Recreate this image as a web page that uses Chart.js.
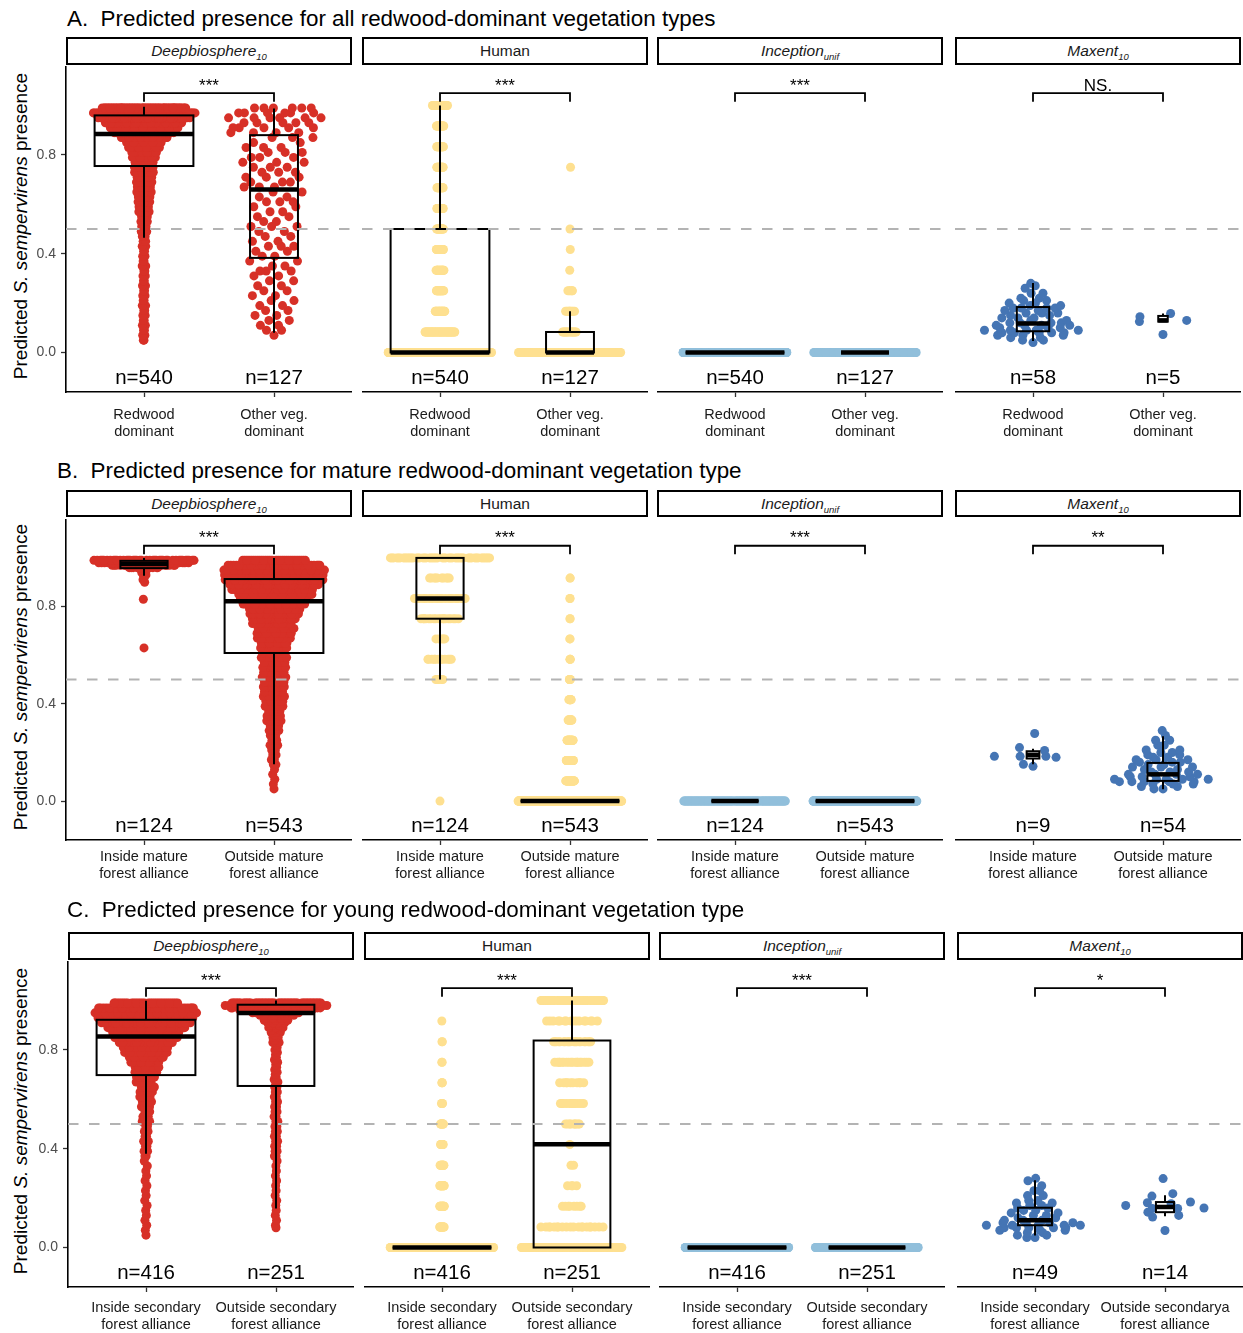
<!DOCTYPE html>
<html>
<head>
<meta charset="utf-8">
<title>Predicted S. sempervirens presence</title>
<script src="https://cdn.jsdelivr.net/npm/chart.js@4.4.1/dist/chart.umd.min.js"></script>
<style>
  html, body { margin: 0; padding: 0; background: #fff; }
  body { position: relative; width: 1243px; height: 1333px; overflow: hidden;
         font-family: "Liberation Sans", Arial, Helvetica, sans-serif; }
  .row-title { position: absolute; font-size: 22.4px; line-height: 22px; color: #000; white-space: pre; }
  .strip { position: absolute; box-sizing: border-box; width: 286px; border: 2.5px solid #000; background: #fff;
           display: flex; align-items: center; justify-content: center; font-size: 15.5px; color: #1a1a1a; }
  .strip sub { font-size: 9.5px; vertical-align: -4px; line-height: 0; }
  .y-title { position: absolute; width: 340px; height: 20px; text-align: center; font-size: 19px; line-height: 20px;
             color: #000; white-space: nowrap; transform: rotate(-90deg); }
  canvas { position: absolute; }
</style>
</head>
<body>
<script>
// ---------------------------------------------------------------------------
// Shared labels
// ---------------------------------------------------------------------------
const rowTitles = [
  'A.  Predicted presence for all redwood-dominant vegetation types',
  'B.  Predicted presence for mature redwood-dominant vegetation type',
  'C.  Predicted presence for young redwood-dominant vegetation type'
];
const modelNames = ['Deepbiosphere', 'Human', 'Inception', 'Maxent'];
const modelSubs = ['10', '', 'unif', '10'];
const modelItalic = [true, false, true, true];
const modelColors = ['#d73027', '#fee090', '#91bfdb', '#4575b4'];

const catsA = [['Redwood', 'dominant'], ['Other veg.', 'dominant']];
const catsB = [['Inside mature', 'forest alliance'], ['Outside mature', 'forest alliance']];
const catsC = [['Inside secondary', 'forest alliance'], ['Outside secondary', 'forest alliance']];
const catsCMaxent = [['Inside secondary', 'forest alliance'], ['Outside secondarya', 'forest alliance']];

const yTickValues = [0, 0.4, 0.8];
const yTickLabels = ['0.0', '0.4', '0.8'];
const threshold = 0.5;

const sigA = ['***', '***', '***', 'NS.'];
const sigB = ['***', '***', '***', '**'];
const sigC = ['***', '***', '***', '*'];

const nA = [[540, 127], [540, 127], [540, 127], [58, 5]];
const nB = [[124, 543], [124, 543], [124, 543], [9, 54]];
const nC = [[416, 251], [416, 251], [416, 251], [49, 14]];

// Human scores are given on a 0–1 scale in twelfths
const humanLevels = [0, 0.083, 0.167, 0.25, 0.333, 0.417, 0.5, 0.583, 0.667, 0.75, 0.833, 0.917, 1.0];
const zeroLevel = [0];

// ---------------------------------------------------------------------------
// Row A: all redwood-dominant vegetation types (value / count pairs)
// ---------------------------------------------------------------------------
const deepA_redwood_val = [0.05,0.07,0.09,0.11,0.13,0.15,0.17,0.19,0.21,0.23,0.25,0.27,0.29,0.31,0.33,0.35,0.37,0.39,0.41,0.43,0.45,0.47,0.49,0.51,0.53,0.55,0.57,0.59,0.61,0.63,0.65,0.67,0.69,0.71,0.73,0.75,0.77,0.79,0.81,0.83,0.85,0.87,0.89,0.91,0.93,0.95,0.97,0.99];
const deepA_redwood_cnt = [2,2,2,2,2,2,2,2,2,2,2,2,2,2,2,2,2,2,2,2,3,3,3,4,4,5,6,6,7,8,8,9,9,10,10,11,12,13,14,17,20,24,35,38,42,46,67,66];
const deepA_other_val = [0.07,0.09,0.11,0.13,0.15,0.17,0.19,0.21,0.23,0.25,0.27,0.29,0.31,0.33,0.35,0.37,0.39,0.41,0.43,0.45,0.47,0.49,0.51,0.53,0.55,0.57,0.59,0.61,0.63,0.65,0.67,0.69,0.71,0.73,0.75,0.77,0.79,0.81,0.83,0.85,0.87,0.89,0.91,0.93,0.95,0.97,0.99];
const deepA_other_cnt = [1,2,2,2,2,2,2,2,2,2,2,2,2,3,2,2,2,2,3,2,2,2,3,2,2,2,2,3,2,2,3,3,3,3,3,3,3,3,3,2,3,4,5,5,6,6,6];
const humanA_redwood_cnt = [282,50,20,18,18,18,16,16,14,16,16,16,40];
const humanA_other_cnt = [95,14,9,5,1,1,1,0,0,1,0,0,0];
const incepA_redwood_cnt = [540];
const incepA_other_cnt = [127];
const maxentA_redwood_val = [0.04,0.05,0.06,0.07,0.08,0.09,0.10,0.11,0.12,0.13,0.14,0.15,0.16,0.17,0.18,0.19,0.20,0.21,0.22,0.24,0.26,0.27,0.28];
const maxentA_redwood_cnt = [1,2,2,3,5,5,3,4,4,2,3,2,3,2,4,2,2,2,2,2,1,1,1];
const maxentA_other_val = [0.073,0.125,0.13,0.145,0.158];
const maxentA_other_cnt = [1,1,1,1,1];

// box statistics: [lower whisker, Q1, median, Q3, upper whisker]
const boxA_deep = [[0.465, 0.755, 0.885, 0.96, 0.995], [0.08, 0.383, 0.66, 0.88, 0.988]];
const boxA_human = [[0, 0, 0, 0.5, 1.0], [0, 0, 0, 0.083, 0.167]];
const boxA_incep = [[0, 0, 0, 0, 0], [0, 0, 0, 0, 0]];
const boxA_maxent = [[0.046, 0.086, 0.117, 0.184, 0.281], [0.125, 0.125, 0.13, 0.148, 0.158]];

// ---------------------------------------------------------------------------
// Row B: mature redwood-dominant vegetation type
// ---------------------------------------------------------------------------
const deepB_inside_val = [0.63,0.83,0.90,0.91,0.92,0.93,0.94,0.95,0.96,0.97,0.98,0.99];
const deepB_inside_cnt = [1,1,1,1,1,2,2,3,12,25,35,40];
const deepB_outside_val = [0.05,0.07,0.09,0.11,0.13,0.15,0.17,0.19,0.21,0.23,0.25,0.27,0.29,0.31,0.33,0.35,0.37,0.39,0.41,0.43,0.45,0.47,0.49,0.51,0.53,0.55,0.57,0.59,0.61,0.63,0.65,0.67,0.69,0.71,0.73,0.75,0.77,0.79,0.81,0.83,0.85,0.87,0.89,0.91,0.93,0.95,0.97,0.99];
const deepB_outside_cnt = [1,1,1,1,1,2,2,2,2,3,3,3,4,4,5,5,6,6,7,7,7,7,8,8,8,8,8,8,8,9,10,11,12,13,14,15,16,17,19,22,25,28,30,31,34,35,36,30];
const humanB_inside_cnt = [1,0,0,0,0,0,5,12,5,18,24,10,49];
const humanB_outside_cnt = [412,35,30,25,15,10,5,3,2,2,2,2,0];
const incepB_inside_cnt = [124];
const incepB_outside_cnt = [543];
const maxentB_inside_val = [0.143,0.151,0.18,0.184,0.208,0.22,0.278];
const maxentB_inside_cnt = [1,1,1,3,1,1,1];
const maxentB_outside_val = [0.05,0.06,0.07,0.08,0.09,0.10,0.11,0.12,0.13,0.14,0.15,0.16,0.17,0.18,0.19,0.20,0.21,0.23,0.25,0.27,0.29];
const maxentB_outside_cnt = [2,2,3,5,5,3,4,3,2,3,2,3,3,2,2,2,2,2,2,1,1];

const boxB_deep = [[0.927, 0.958, 0.975, 0.988, 1.0], [0.151, 0.609, 0.822, 0.913, 1.0]];
const boxB_human = [[0.5, 0.75, 0.833, 1.0, 1.0], [0, 0, 0, 0, 0]];
const boxB_incep = [[0, 0, 0, 0, 0], [0, 0, 0, 0, 0]];
const boxB_maxent = [[0.151, 0.175, 0.19, 0.205, 0.215], [0.049, 0.083, 0.11, 0.157, 0.267]];

// ---------------------------------------------------------------------------
// Row C: young redwood-dominant vegetation type
// ---------------------------------------------------------------------------
const deepC_inside_val = [0.05,0.07,0.09,0.11,0.13,0.15,0.17,0.19,0.21,0.23,0.25,0.27,0.29,0.31,0.33,0.35,0.37,0.39,0.41,0.43,0.45,0.47,0.49,0.51,0.53,0.55,0.57,0.59,0.61,0.63,0.65,0.67,0.69,0.71,0.73,0.75,0.77,0.79,0.81,0.83,0.85,0.87,0.89,0.91,0.93,0.95,0.97,0.99];
const deepC_inside_cnt = [1,1,1,1,1,1,1,1,1,1,1,1,1,1,1,1,2,2,2,2,2,2,2,3,3,3,4,4,5,5,6,7,8,8,9,11,13,15,17,19,22,26,28,30,36,38,36,30];
const deepC_outside_val = [0.08,0.09,0.11,0.13,0.15,0.17,0.19,0.21,0.23,0.25,0.27,0.29,0.31,0.33,0.35,0.37,0.39,0.41,0.43,0.45,0.47,0.49,0.51,0.53,0.55,0.57,0.59,0.61,0.63,0.65,0.66,0.67,0.68,0.69,0.70,0.71,0.72,0.73,0.74,0.75,0.76,0.77,0.78,0.79,0.80,0.81,0.82,0.83,0.84,0.85,0.86,0.87,0.88,0.89,0.90,0.91,0.92,0.93,0.94,0.95,0.96,0.97,0.98,0.99];
const deepC_outside_cnt = [1,1,1,1,1,1,1,1,1,1,1,1,1,1,1,2,2,2,2,2,2,2,2,2,2,2,2,2,2,2,1,1,1,1,1,1,1,1,1,1,1,1,1,1,1,1,1,2,2,2,2,3,3,4,5,5,6,7,8,10,15,25,35,55];
const humanC_inside_cnt = [327,15,15,15,12,10,10,4,3,2,2,1,0];
const humanC_outside_cnt = [81,20,8,4,2,1,9,12,10,18,20,16,50];
const incepC_inside_cnt = [416];
const incepC_outside_cnt = [251];
const maxentC_inside_val = [0.04,0.05,0.06,0.07,0.08,0.09,0.10,0.11,0.12,0.13,0.14,0.15,0.16,0.17,0.18,0.19,0.21,0.23,0.25,0.27,0.28];
const maxentC_inside_cnt = [2,2,2,3,5,5,4,3,2,2,2,2,2,2,2,2,2,2,1,1,1];
const maxentC_outside_val = [0.069,0.123,0.13,0.143,0.158,0.16,0.17,0.177,0.181,0.184,0.208,0.218,0.279];
const maxentC_outside_cnt = [1,1,1,1,2,1,1,1,1,1,1,1,1];

const boxC_deep = [[0.38, 0.698, 0.854, 0.922, 0.999], [0.158, 0.654, 0.949, 0.983, 1.0]];
const boxC_human = [[0, 0, 0, 0, 0], [0, 0, 0.418, 0.838, 1.0]];
const boxC_incep = [[0, 0, 0, 0, 0], [0, 0, 0, 0, 0]];
const boxC_maxent = [[0.049, 0.09, 0.11, 0.161, 0.272], [0.126, 0.143, 0.164, 0.184, 0.211]];

// ---------------------------------------------------------------------------
// Assemble rows from the arrays above
// ---------------------------------------------------------------------------
const rows = [
  {
    title: rowTitles[0], cats: [catsA, catsA, catsA, catsA], n: nA, sig: sigA,
    groups: [
      [[deepA_redwood_val, deepA_redwood_cnt], [deepA_other_val, deepA_other_cnt]],
      [[humanLevels, humanA_redwood_cnt], [humanLevels, humanA_other_cnt]],
      [[zeroLevel, incepA_redwood_cnt], [zeroLevel, incepA_other_cnt]],
      [[maxentA_redwood_val, maxentA_redwood_cnt], [maxentA_other_val, maxentA_other_cnt]]
    ],
    boxes: [boxA_deep, boxA_human, boxA_incep, boxA_maxent]
  },
  {
    title: rowTitles[1], cats: [catsB, catsB, catsB, catsB], n: nB, sig: sigB,
    groups: [
      [[deepB_inside_val, deepB_inside_cnt], [deepB_outside_val, deepB_outside_cnt]],
      [[humanLevels, humanB_inside_cnt], [humanLevels, humanB_outside_cnt]],
      [[zeroLevel, incepB_inside_cnt], [zeroLevel, incepB_outside_cnt]],
      [[maxentB_inside_val, maxentB_inside_cnt], [maxentB_outside_val, maxentB_outside_cnt]]
    ],
    boxes: [boxB_deep, boxB_human, boxB_incep, boxB_maxent]
  },
  {
    title: rowTitles[2], cats: [catsC, catsC, catsC, catsCMaxent], n: nC, sig: sigC,
    groups: [
      [[deepC_inside_val, deepC_inside_cnt], [deepC_outside_val, deepC_outside_cnt]],
      [[humanLevels, humanC_inside_cnt], [humanLevels, humanC_outside_cnt]],
      [[zeroLevel, incepC_inside_cnt], [zeroLevel, incepC_outside_cnt]],
      [[maxentC_inside_val, maxentC_inside_cnt], [maxentC_outside_val, maxentC_outside_cnt]]
    ],
    boxes: [boxC_deep, boxC_human, boxC_incep, boxC_maxent]
  }
];

// ---------------------------------------------------------------------------
// Page geometry
// ---------------------------------------------------------------------------
const rowGeom = [
  { titleX: 67, titleY: 19,  stripTop: 37,  stripBot: 65,  plotTop: 66,  plotBot: 392,  dx: 0, labelPad: 9 },
  { titleX: 57, titleY: 471, stripTop: 490, stripBot: 517, plotTop: 519, plotBot: 840,  dx: 0, labelPad: 3 },
  { titleX: 67, titleY: 910, stripTop: 932, stripBot: 960, plotTop: 961, plotBot: 1287, dx: 2, labelPad: 7 }
];
const panelLeft = [66, 362, 657, 955];
const panelWidth = 286;
const yAxisWidth = 66;
const xAxisHeight = 60;
const yMin = -0.16, yMax = 1.16;
const xMin = 0.4, xMax = 2.6;
const spreadWidth = 0.4;      // quasirandom half-spread, data units
const boxWidthMax = 0.76;     // box width of the largest group in a row
const pointRadius = 4.5;
const FONT = '"Liberation Sans", Arial, Helvetica, sans-serif';

// ---------------------------------------------------------------------------
// Quasirandom (van der Corput) point spreading scaled by a kernel density
// ---------------------------------------------------------------------------
function expand(vals, cnts) {
  const out = [];
  vals.forEach((v, i) => { for (let k = 0; k < cnts[i]; k++) out.push(v); });
  return out;
}
function quantile7(sorted, p) {
  const h = (sorted.length - 1) * p, lo = Math.floor(h), hi = Math.ceil(h);
  return sorted[lo] + (h - lo) * (sorted[hi] - sorted[lo]);
}
function bwNrd0(x) {
  const n = x.length;
  if (n < 2) return 0.1;
  const mean = x.reduce((a, b) => a + b, 0) / n;
  const sd = Math.sqrt(x.reduce((a, b) => a + (b - mean) * (b - mean), 0) / (n - 1));
  const s = x.slice().sort((a, b) => a - b);
  const iqr = quantile7(s, 0.75) - quantile7(s, 0.25);
  let lo = Math.min(sd, iqr / 1.34);
  if (!lo) lo = sd || Math.abs(x[0]) || 1;
  return 0.9 * lo * Math.pow(n, -0.2);
}
function vanDerCorput(i) {
  let r = 0, f = 0.5;
  while (i > 0) { r += f * (i & 1); i >>= 1; f /= 2; }
  return r;
}
function quasirandomOffsets(ys) {
  const n = ys.length;
  const bw = 0.5 * bwNrd0(ys);
  const dens = v => { let s = 0; for (const y of ys) { const z = (v - y) / bw; s += Math.exp(-0.5 * z * z); } return s; };
  const lo = Math.min(...ys) - 3 * bw, hi = Math.max(...ys) + 3 * bw;
  let mx = 0;
  for (let g = 0; g < 512; g++) { const d = dens(lo + (hi - lo) * g / 511); if (d > mx) mx = d; }
  const order = ys.map((v, i) => i).sort((a, b) => (ys[a] - ys[b]) || (a - b));
  const rank = new Array(n);
  order.forEach((k, r) => { rank[k] = r + 1; });
  const cache = new Map();
  return ys.map((v, i) => {
    let d = cache.get(v);
    if (d === undefined) { d = dens(v) / mx; cache.set(v, d); }
    return (vanDerCorput(rank[i]) - 0.5) * 2 * spreadWidth * d;
  });
}
function groupPoints(vals, cnts, center) {
  const ys = expand(vals, cnts);
  const off = quasirandomOffsets(ys);
  return ys.map((y, i) => ({ x: center + off[i], y: y }));
}

// ---------------------------------------------------------------------------
// Panel decorations: box plots, threshold, significance bracket, counts
// ---------------------------------------------------------------------------
function decorPlugin(boxes, boxWidths, nLabels, sigLabel) {
  return {
    id: 'panelDecor',
    afterDatasetsDraw(chart) {
      const ctx = chart.ctx, xs = chart.scales.x, ys = chart.scales.y, area = chart.chartArea;
      const line = (x1, y1, x2, y2) => { ctx.beginPath(); ctx.moveTo(x1, y1); ctx.lineTo(x2, y2); ctx.stroke(); };
      ctx.save();
      ctx.strokeStyle = '#000';
      ctx.lineCap = 'butt';
      boxes.forEach((b, i) => {
        const cx = xs.getPixelForValue(i + 1);
        const hw = xs.getPixelForValue(i + 1 + boxWidths[i] / 2) - cx;
        const [lo, q1, md, q3, hi] = b.map(v => ys.getPixelForValue(v));
        ctx.lineWidth = 2;
        if (hi < q3) line(cx, hi, cx, q3);
        if (lo > q1) line(cx, q1, cx, lo);
        ctx.strokeRect(cx - hw, q3, 2 * hw, q1 - q3);
        ctx.lineWidth = 4.5;
        line(cx - hw, md, cx + hw, md);
      });
      // threshold line
      const yT = ys.getPixelForValue(threshold);
      ctx.strokeStyle = '#b3b3b3';
      ctx.lineWidth = 2;
      ctx.setLineDash([10.5, 10.5]);
      line(area.left, yT, area.right, yT);
      ctx.setLineDash([]);
      // significance bracket
      const x1 = xs.getPixelForValue(1), x2 = xs.getPixelForValue(2);
      const yb = ys.getPixelForValue(1.05), ye = ys.getPixelForValue(1.015);
      ctx.strokeStyle = '#000';
      ctx.lineWidth = 1.8;
      ctx.beginPath(); ctx.moveTo(x1, ye); ctx.lineTo(x1, yb); ctx.lineTo(x2, yb); ctx.lineTo(x2, ye); ctx.stroke();
      ctx.fillStyle = '#000';
      ctx.textAlign = 'center';
      ctx.textBaseline = 'alphabetic';
      ctx.font = '17px ' + FONT;
      ctx.fillText(sigLabel, (x1 + x2) / 2, ys.getPixelForValue(1.06));
      // group sizes
      ctx.font = '20.5px ' + FONT;
      nLabels.forEach((n, i) => {
        ctx.fillText('n=' + n, xs.getPixelForValue(i + 1), ys.getPixelForValue(-0.128));
      });
      ctx.restore();
    }
  };
}

// ---------------------------------------------------------------------------
// Build the page
// ---------------------------------------------------------------------------
function stripHTML(c) {
  const name = modelNames[c] + (modelSubs[c] ? '<sub>' + modelSubs[c] + '</sub>' : '');
  return modelItalic[c] ? '<i>' + name + '</i>' : name;
}

rows.forEach((row, r) => {
  const g = rowGeom[r];
  const title = document.createElement('div');
  title.className = 'row-title';
  title.style.left = g.titleX + 'px';
  title.style.top = (g.titleY - 11) + 'px';
  title.textContent = row.title;
  document.body.appendChild(title);

  const yt = document.createElement('div');
  yt.className = 'y-title';
  yt.innerHTML = 'Predicted <i>S. sempervirens</i> presence';
  yt.style.left = (21 - 170) + 'px';
  yt.style.top = ((g.plotTop + g.plotBot) / 2 - 3 - 10) + 'px';
  document.body.appendChild(yt);

  const rowMaxN = Math.max(...row.n.flat());

  for (let c = 0; c < 4; c++) {
    const left = panelLeft[c] + g.dx;
    const strip = document.createElement('div');
    strip.className = 'strip';
    strip.style.left = left + 'px';
    strip.style.top = g.stripTop + 'px';
    strip.style.height = (g.stripBot - g.stripTop) + 'px';
    strip.innerHTML = stripHTML(c);
    document.body.appendChild(strip);

    const yw = c === 0 ? yAxisWidth : 0;
    const W = panelWidth + yw;
    const H = (g.plotBot - g.plotTop) + xAxisHeight;
    const cv = document.createElement('canvas');
    cv.width = W; cv.height = H;
    cv.style.left = (left - yw) + 'px';
    cv.style.top = g.plotTop + 'px';
    cv.style.width = W + 'px';
    cv.style.height = H + 'px';
    document.body.appendChild(cv);

    const cats = row.cats[c];
    const nLabels = row.n[c];
    const boxWidths = nLabels.map(n => boxWidthMax * Math.sqrt(n / rowMaxN));
    const datasets = row.groups[c].map(([vals, cnts], gi) => ({
      data: groupPoints(vals, cnts, gi + 1),
      backgroundColor: modelColors[c],
      borderWidth: 0,
      pointRadius: pointRadius,
      pointHoverRadius: pointRadius
    }));

    new Chart(cv, {
      type: 'scatter',
      data: { datasets },
      options: {
        responsive: false,
        animation: false,
        devicePixelRatio: 1,
        events: [],
        layout: { padding: 0, autoPadding: false },
        plugins: { legend: { display: false }, tooltip: { enabled: false } },
        scales: {
          x: {
            type: 'linear', min: xMin, max: xMax, offset: false,
            afterBuildTicks: s => { s.ticks = [{ value: 1 }, { value: 2 }]; },
            afterFit: s => { s.height = xAxisHeight; s.paddingLeft = 0; s.paddingRight = 0; },
            ticks: {
              autoSkip: false, maxRotation: 0, minRotation: 0,
              padding: g.labelPad, color: '#1a1a1a',
              font: { family: FONT, size: 14.5, lineHeight: 1.2 },
              callback: (v, i) => cats[i]
            },
            grid: { display: true, drawOnChartArea: false, drawTicks: true, tickLength: 5, tickColor: '#333', tickWidth: 1.3 },
            border: { display: true, color: '#000', width: 1.6 }
          },
          y: {
            type: 'linear', min: yMin, max: yMax, display: c === 0,
            afterBuildTicks: s => { s.ticks = yTickValues.map(v => ({ value: v })); },
            afterFit: s => { s.width = yw; s.paddingTop = 0; s.paddingBottom = 0; },
            ticks: {
              padding: 5, color: '#4d4d4d',
              font: { family: FONT, size: 14 },
              callback: (v, i) => yTickLabels[i]
            },
            grid: { display: true, drawOnChartArea: false, drawTicks: true, tickLength: 5, tickColor: '#333', tickWidth: 1.3 },
            border: { display: true, color: '#000', width: 1.6 }
          }
        }
      },
      plugins: [decorPlugin(row.boxes[c], boxWidths, nLabels, row.sig[c])]
    });
  }
});
</script>
</body>
</html>
